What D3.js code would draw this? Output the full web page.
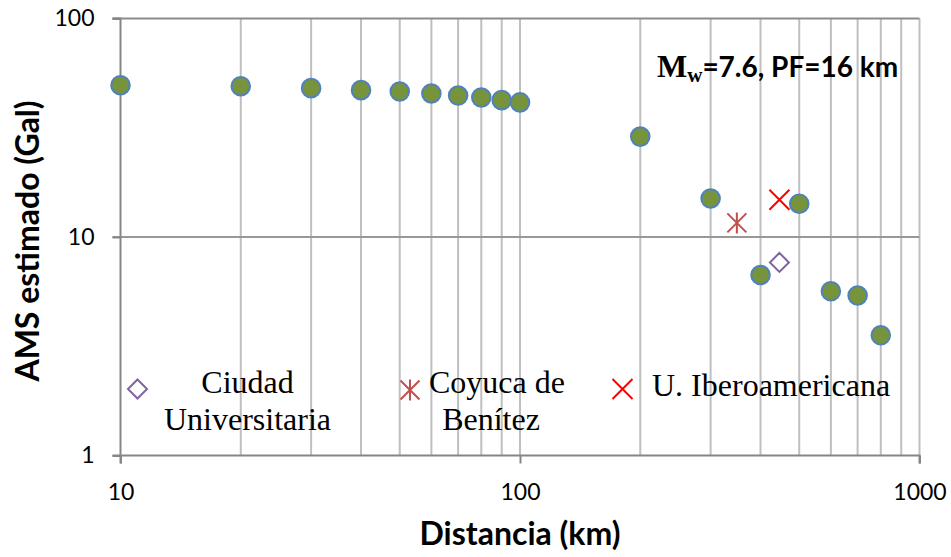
<!DOCTYPE html>
<html>
<head>
<meta charset="utf-8">
<script src="https://cdn.jsdelivr.net/npm/d3@7"></script>
<style>
  html, body { margin: 0; padding: 0; background: #fff; }
  svg { display: block; }
</style>
</head>
<body>
<svg id="chart" width="951" height="557"></svg>
<script>
// Estimated AMS vs distance
const distances = [10, 20, 30, 40, 50, 60, 70, 80, 90, 100, 200, 300, 400, 500, 600, 700, 800];
const amsValues = [49.5, 49, 48, 47, 46.3, 45.4, 44.4, 43.5, 42.3, 41.3, 28.8, 15.0, 6.7, 14.2, 5.65, 5.4, 3.55];

// Recorded stations
const stationNames = ["Ciudad Universitaria", "Coyuca de Benítez", "U. Iberoamericana"];
const stationDist = [446, 349, 446];
const stationAms = [7.65, 11.6, 14.8];

const xTickValues = [10, 100, 1000];
const yTickValues = [1, 10, 100];
const xMinorValues = [20, 30, 40, 50, 60, 70, 80, 90, 100, 200, 300, 400, 500, 600, 700, 800, 900, 1000];

const svg = d3.select("#chart");
const L = 120.5, R = 919.5, T = 18.5, B = 455.5;

const x = d3.scaleLog().domain([10, 1000]).range([L, R]);
const y = d3.scaleLog().domain([1, 100]).range([B, T]);

const sans = "Lato, 'Open Sans', sans-serif";
const serif = "'Liberation Serif', 'DejaVu Serif', serif";

// vertical gridlines
svg.append("g").selectAll("line").data(xMinorValues).join("line")
  .attr("x1", d => x(d)).attr("x2", d => x(d))
  .attr("y1", T).attr("y2", B)
  .attr("stroke", "#bfbfbf").attr("stroke-width", 2);

// horizontal major gridline at 10
svg.append("line")
  .attr("x1", L - 8).attr("x2", R).attr("y1", y(10)).attr("y2", y(10))
  .attr("stroke", "#989898").attr("stroke-width", 2);
// top line at 100
svg.append("line")
  .attr("x1", L - 8).attr("x2", R).attr("y1", y(100)).attr("y2", y(100))
  .attr("stroke", "#8c8c8c").attr("stroke-width", 2);

// axes
const xAxis = d3.axisBottom(x).tickValues(xTickValues).tickFormat(d3.format("d")).tickSize(8).tickPadding(20);
const yAxis = d3.axisLeft(y).tickValues(yTickValues).tickFormat(d3.format("d")).tickSize(8).tickPadding(18);

const gx = svg.append("g").attr("transform", `translate(0,${B})`).call(xAxis);
const gy = svg.append("g").attr("transform", `translate(${L},0)`).call(yAxis);
[gx, gy].forEach(g => {
  g.select(".domain").attr("stroke", "#868686").attr("stroke-width", 2);
  g.selectAll(".tick line").attr("stroke", "#868686").attr("stroke-width", 2);
  g.selectAll(".tick text").attr("fill", "#000").style("font-family", sans).style("font-size", "23px");
});
gy.select(".domain").attr("d", `M-8,${B}H0V${T}H-8`);
gx.select(".domain").attr("d", `M${L},8V0H${R}V8`);

// model points
svg.append("g").selectAll("circle").data(distances).join("circle")
  .attr("cx", d => x(d)).attr("cy", (d, i) => y(amsValues[i]))
  .attr("r", 9.3)
  .attr("fill", "#77933c").attr("stroke", "#4f81bd").attr("stroke-width", 2);

// station marker shapes
function drawMarker(g, kind, cx, cy) {
  if (kind === 0) {
    g.append("path").attr("d", `M${cx},${cy - 9.5}L${cx + 9.5},${cy}L${cx},${cy + 9.5}L${cx - 9.5},${cy}Z`)
      .attr("fill", "#fff").attr("stroke", "#8064a2").attr("stroke-width", 2);
  } else if (kind === 1) {
    const s = 9.5;
    g.append("path").attr("d",
      `M${cx - s},${cy - s}L${cx + s},${cy + s}M${cx - s},${cy + s}L${cx + s},${cy - s}M${cx},${cy - s - 1}L${cx},${cy + s + 1}`)
      .attr("stroke", "#c0504d").attr("stroke-width", 2).attr("fill", "none");
  } else {
    const s = 10;
    g.append("path").attr("d", `M${cx - s},${cy - s}L${cx + s},${cy + s}M${cx - s},${cy + s}L${cx + s},${cy - s}`)
      .attr("stroke", "#ff0000").attr("stroke-width", 2).attr("fill", "none");
  }
}

const gs = svg.append("g");
stationNames.forEach((n, i) => drawMarker(gs, i, x(stationDist[i]), y(stationAms[i])));

// legend
const lg = svg.append("g").style("font-family", serif).style("font-size", "32px").attr("fill", "#000");
drawMarker(lg, 0, 137.5, 389);
lg.append("text").attr("x", 247.5).attr("y", 393).attr("text-anchor", "middle").text("Ciudad");
lg.append("text").attr("x", 247.5).attr("y", 430).attr("text-anchor", "middle").text("Universitaria");
drawMarker(lg, 1, 410, 390);
lg.append("text").attr("x", 429).attr("y", 393).text("Coyuca de");
lg.append("text").attr("x", 491).attr("y", 430).attr("text-anchor", "middle").text("Benítez");
drawMarker(lg, 2, 622.5, 389);
lg.append("text").attr("x", 652).attr("y", 396).text("U. Iberoamericana");

// annotation
const ann = svg.append("text").attr("x", 657).attr("y", 77).attr("fill", "#000")
  .style("font-weight", "bold");
ann.append("tspan").style("font-family", serif).style("font-size", "32px").text("M");
ann.append("tspan").style("font-family", serif).attr("dy", 5).style("font-size", "21px").text("w");
ann.append("tspan").style("font-family", sans).attr("dy", -5).style("font-size", "28px").text("=7.6, PF=16 km");

// axis titles
svg.append("text").attr("x", (L + R) / 2).attr("y", 545).attr("text-anchor", "middle")
  .style("font-family", sans).style("font-weight", "bold").style("font-size", "32px").text("Distancia (km)");
svg.append("text").attr("transform", `translate(39,241) rotate(-90)`).attr("text-anchor", "middle")
  .style("font-family", sans).style("font-weight", "bold").style("font-size", "32px").text("AMS estimado (Gal)");
</script>
</body>
</html>
